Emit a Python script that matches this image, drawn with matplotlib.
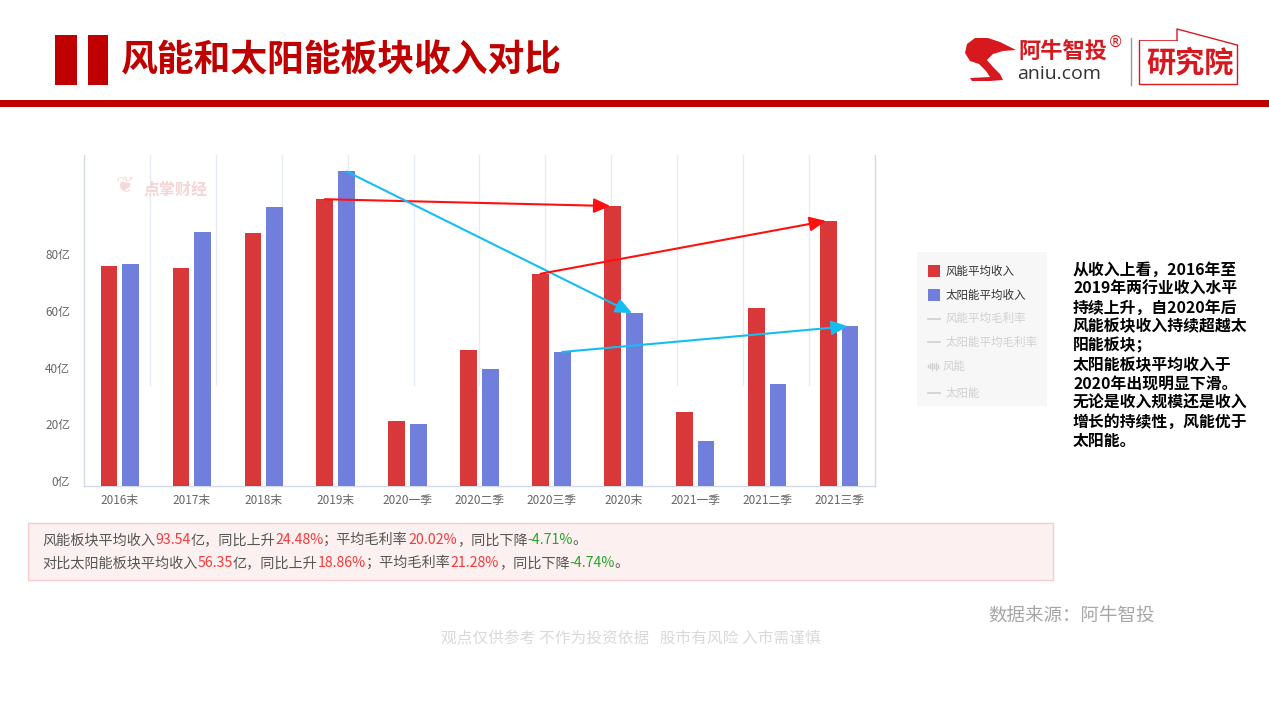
import matplotlib
matplotlib.use('Agg')
import matplotlib.pyplot as plt
from matplotlib.patches import Rectangle, Polygon
import matplotlib.transforms as mtransforms

plt.rcParams['font.family'] = ['Noto Sans CJK SC', 'DejaVu Sans']

# ---------------- data ----------------
categories = ['2016末', '2017末', '2018末', '2019末', '2020一季', '2020二季',
              '2020三季', '2020末', '2021一季', '2021二季', '2021三季']
wind_revenue = [77.6, 77.0, 89.1, 101.2, 23.0, 48.1, 74.9, 98.8, 26.0, 62.8, 93.54]
solar_revenue = [78.5, 89.5, 98.3, 111.0, 21.9, 41.3, 47.3, 61.0, 15.9, 36.0, 56.35]
y_ticks = [0, 20, 40, 60, 80]
y_tick_labels = ['0亿', '20亿', '40亿', '60亿', '80亿']
series_names = ['风能平均收入', '太阳能平均收入']
hidden_series = ['风能平均毛利率', '太阳能平均毛利率', '风能', '太阳能']
# trend arrows: (series, from category index, to category index)
arrows = [('wind', 3, 7), ('solar', 3, 7), ('wind', 6, 10), ('solar', 6, 10)]

title = '风能和太阳能板块收入对比'
comment_lines = ['从收入上看，2016年至', '2019年两行业收入水平', '持续上升，自2020年后',
                 '风能板块收入持续超越太', '阳能板块；', '太阳能板块平均收入于',
                 '2020年出现明显下滑。', '无论是收入规模还是收入', '增长的持续性，风能优于',
                 '太阳能。']
info_line1 = [('风能板块平均收入', 'n'), ('93.54', 'r'), ('亿，同比上升', 'n'), ('24.48%', 'r'),
              ('；平均毛利率', 'n'), ('20.02%', 'r'), ('，同比下降', 'n'), ('-4.71%', 'g'), ('。', 'n')]
info_line2 = [('对比太阳能板块平均收入', 'n'), ('56.35', 'r'), ('亿，同比上升', 'n'), ('18.86%', 'r'),
              ('；平均毛利率', 'n'), ('21.28%', 'r'), ('，同比下降', 'n'), ('-4.74%', 'g'), ('。', 'n')]

# ---------------- figure ----------------
W, H = 1269, 709
fig = plt.figure(figsize=(W / 100, H / 100), dpi=100)
fig.patch.set_facecolor('white')

bg = fig.add_axes([0, 0, 1, 1])
bg.set_xlim(0, W)
bg.set_ylim(H, 0)
bg.axis('off')
bg.set_zorder(0)

RED_DARK = '#c00000'

# header
bg.add_patch(Rectangle((55, 35), 22, 50, color=RED_DARK, lw=0))
bg.add_patch(Rectangle((88, 35), 20, 50, color=RED_DARK, lw=0))
bg.text(121, 61, title, color=RED_DARK, fontsize=26.5, fontweight='bold',
        va='center', ha='left')
bg.add_patch(Rectangle((0, 100), W, 7, color=RED_DARK, lw=0))

# logo
logo_red = '#d7191f'
swoosh = [(965, 53), (967, 44), (975, 38), (988, 38), (1000, 42), (1016, 50),
          (1003, 51), (993, 54), (987, 60), (993, 67), (1000, 74), (1003, 80),
          (990, 81), (972, 81), (970, 78), (990, 77), (986, 71), (979, 64), (970, 61)]
bg.add_patch(Polygon(swoosh, closed=True, color=logo_red, lw=0))
bg.text(1018, 52, '阿牛智投', color=logo_red, fontsize=16, fontweight='bold', va='center', ha='left')
bg.text(1108, 42, '®', color=logo_red, fontsize=11, va='center', ha='left', family='DejaVu Sans')
bg.text(1017, 74, 'aniu.com', color='#333333', fontsize=14, va='center', ha='left', family='Open Sans')
bg.plot([1131, 1131], [38, 85], color='#999999', lw=1)
bg.plot([1139, 1139, 1237, 1237], [40, 84, 84, 45], color=logo_red, lw=1)
bg.plot([1177, 1177, 1237], [40, 29, 45], color=logo_red, lw=1)
bg.plot([1139, 1177], [40, 40], color=logo_red, lw=0.6)
bg.text(1146, 63, '研究院', color=logo_red, fontsize=21, fontweight='bold', va='center', ha='left')

# ---------------- chart ----------------
ax = fig.add_axes([84 / W, 1 - 486 / H, (875 - 84) / W, (486 - 155) / H])
ax.set_zorder(1)
ax.set_facecolor('white')
n = len(categories)
xs = list(range(n))
bw = 0.232
off = 0.151
WIND_C = '#d9383a'
SOLAR_C = '#6f7fdb'
ax.bar([x - off for x in xs], wind_revenue, width=bw, color=WIND_C, zorder=3)
ax.bar([x + off for x in xs], solar_revenue, width=bw, color=SOLAR_C, zorder=3)
ax.set_xlim(-0.5, n - 0.5)
ax.set_ylim(0, 116.8)

# vertical grid lines (12 intervals, upper part only)
for k in range(1, 12):
    gx = -0.5 + k * n / 12
    ax.axvline(gx, ymin=0.305, ymax=1, color='#e6ecf4', lw=1, zorder=1)

ax.set_xticks(xs)
ax.set_xticklabels(categories, fontsize=8.5, color='#666666')
ax.set_yticks(y_ticks)
ax.set_yticklabels(y_tick_labels, fontsize=8.5, color='#666666')
ax.tick_params(axis='both', length=0)
ax.tick_params(axis='x', pad=6)
ax.tick_params(axis='y', pad=10)
shift = mtransforms.ScaledTranslation(0, 5 / 100, fig.dpi_scale_trans)
for lab in ax.get_yticklabels():
    lab.set_transform(lab.get_transform() + shift)

ax.spines['top'].set_visible(False)
for s in ['left', 'bottom', 'right']:
    ax.spines[s].set_color('#d3dbe8')
    ax.spines[s].set_linewidth(1)

# watermark
ax.text(0.075, 0.895, '点掌财经', transform=ax.transAxes, color='#f3caca', fontsize=11.5,
        fontweight='bold', va='center', ha='left', alpha=0.8, zorder=2)
ax.text(0.04, 0.905, '❦', transform=ax.transAxes, color='#f3caca', fontsize=16,
        va='center', ha='left', alpha=0.7, family='DejaVu Sans', zorder=2)

# arrows
series_map = {'wind': (wind_revenue, -off, '#ff1010'), 'solar': (solar_revenue, off, '#16bdf2')}
for name, i, j in arrows:
    vals, o, c = series_map[name]
    ax.annotate('', xy=(j + o - 0.03, vals[j]), xytext=(i + o, vals[i]),
                arrowprops=dict(arrowstyle='-|>,head_length=0.9,head_width=0.4', color=c,
                                lw=1.5, shrinkA=0, shrinkB=0, mutation_scale=11),
                zorder=5)

# ---------------- legend ----------------
bg.add_patch(Rectangle((917, 252), 130, 154, color='#f7f7f7', lw=0))
leg_y = [271, 295, 318.5, 342, 366, 393]
bg.add_patch(Rectangle((928, 265), 12, 12, color=WIND_C, lw=0))
bg.add_patch(Rectangle((928, 289), 12, 12, color=SOLAR_C, lw=0))
bg.text(946, leg_y[0], series_names[0], fontsize=8.3, color='#333333', va='center', ha='left')
bg.text(946, leg_y[1], series_names[1], fontsize=8.3, color='#333333', va='center', ha='left')
faint = '#d0d0d0'
for k, nm in enumerate(hidden_series):
    yy = leg_y[2 + k]
    if nm == '风能':
        for dx, hh in zip(range(0, 12, 2), [2, 4, 7, 4, 7, 3]):
            bg.plot([928 + dx, 928 + dx], [yy - hh / 2, yy + hh / 2], color=faint, lw=1)
        bg.text(943, yy, nm, fontsize=8.3, color=faint, va='center', ha='left')
    else:
        bg.plot([928, 940], [yy, yy], color=faint, lw=1.2)
        bg.text(946, yy, nm, fontsize=8.3, color=faint, va='center', ha='left')

# ---------------- comment text ----------------
for k, line in enumerate(comment_lines):
    bg.text(1073, 269.5 + k * 19.05, line, fontsize=11.4, fontweight='bold', color='black',
            va='center', ha='left')

# ---------------- info box ----------------
bg.add_patch(Rectangle((28, 523), 1025, 57, facecolor='#fdf0f0', edgecolor='#f6cccc', lw=1))
cmap = {'n': '#555555', 'r': '#f43a3a', 'g': '#29a329'}


def mixed_line(segs, x, y):
    t = bg.text(x, y, segs[0][0], fontsize=10.2, color=cmap[segs[0][1]], va='center', ha='left')
    for txt, c in segs[1:]:
        t = bg.annotate(txt, xy=(1, 0.5), xycoords=t, fontsize=10.2, color=cmap[c],
                        va='center', ha='left')


mixed_line(info_line1, 42, 540)
mixed_line(info_line2, 42, 563)

# ---------------- footer ----------------
bg.text(988, 617, '数据来源：阿牛智投', fontsize=13.3, color='#a6a6a6', va='center', ha='left')
bg.text(441, 639, '观点仅供参考 不作为投资依据   股市有风险 入市需谨慎', fontsize=11.3,
        color='#d9d9d9', va='center', ha='left')

fig.savefig('out.png', dpi=100, facecolor='white')
